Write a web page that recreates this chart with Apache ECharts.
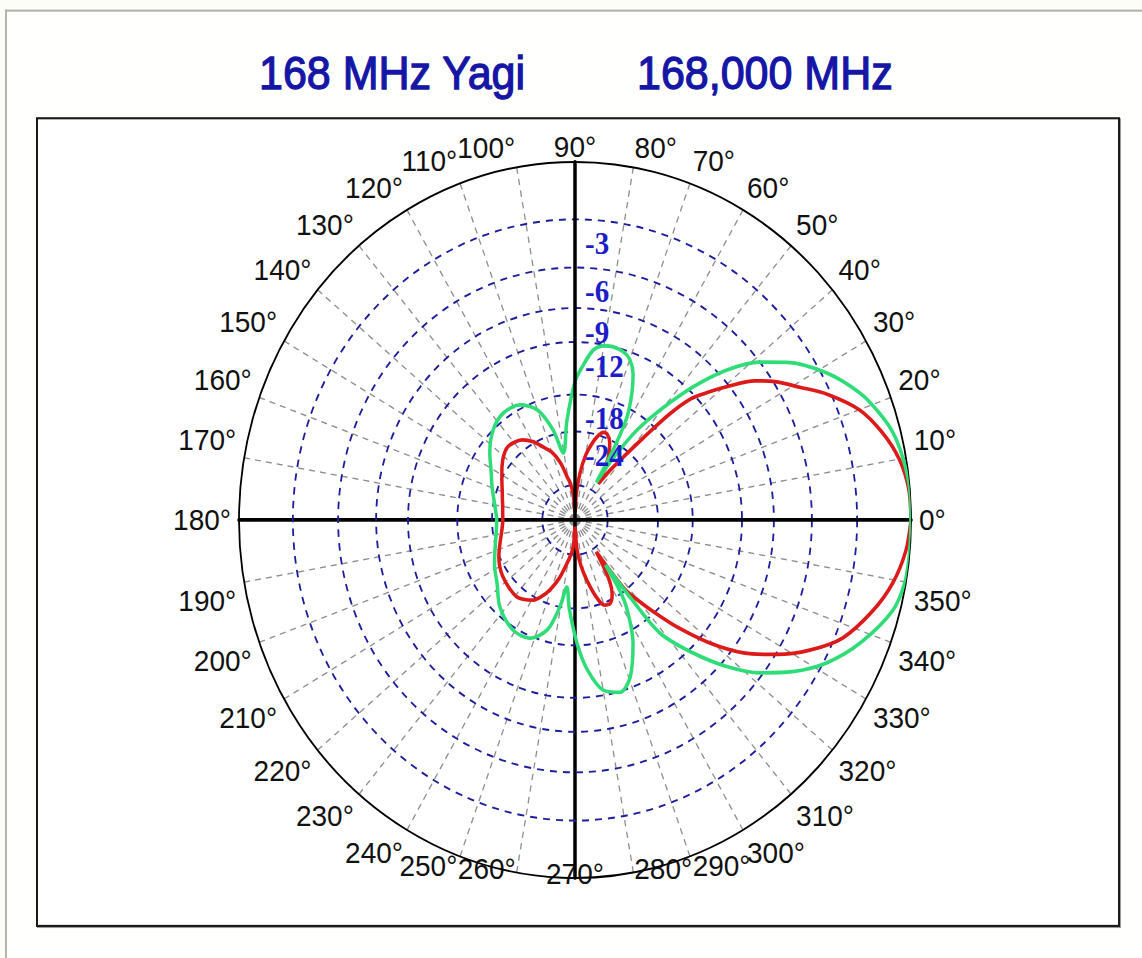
<!DOCTYPE html>
<html><head><meta charset="utf-8">
<script src="https://cdn.jsdelivr.net/npm/echarts@6/dist/echarts.min.js"></script>
<style>
html,body{margin:0;padding:0;background:#fdfdf8;overflow:hidden;width:1142px;height:958px;}
#wrap{position:absolute;left:0;top:0;width:1142px;height:900px;transform-origin:0 0;transform:scale(1,1.0655);}
#border{position:absolute;left:5px;top:9px;width:1150px;height:960px;border-left:2px solid #b4b4aa;border-top:2px solid #b4b4aa;background:#fffffd;}
#frame{position:absolute;left:36px;top:110px;width:1080px;height:756px;border:2px solid #1a1a1a;box-shadow:1px 1px 0 #9a9a9a;background:#fff;}
#chart{position:absolute;left:0;top:0;width:1142px;height:900px;}
</style></head><body>
<div id="wrap"><div id="border"></div><div id="frame"></div><div id="chart"></div></div>
<script>
// Title texts
var titleLeft = '168 MHz Yagi';
var titleRight = '168,000 MHz';
// Ring levels (dB) of the ARRL log scale and their printed labels
var ringDb = [-3, -6, -9, -12, -18, -24, -40];
var ringLabels = ['-3', '-6', '-9', '-12', '-18', '-24'];
// Pattern data: [azimuth (deg), relative gain (dB)]
var redPattern = [
  [0,0],[5,-0.05],[10,-0.35],[15,-0.95],[20,-1.8],[25,-3.2],[29,-4.6],[33,-5.9],[36,-7.1],[39.5,-9.2],
  [42,-10.8],[44.5,-12.5],[46.5,-15.5],[48.5,-20.5],[50.5,-25],[53,-30],[55.5,-36],[58,-31],[61,-27],
  [64.5,-24.5],[68,-23.3],[71,-23.2],[74,-24.3],[77,-26.3],[80,-29],[83.5,-34.7],[87,-45],[90,-65],
  [94,-46],[97.5,-39],[101,-36],[105,-31],[110,-27.5],[115,-25.6],[120,-23.6],[125,-22.3],[130,-21.7],
  [135,-21.5],[140,-22],[145,-22.8],[150,-23.7],[155,-24.5],[160,-25.2],[165,-25.7],[170,-26.1],
  [175,-26.3],[180,-26.4],[185,-26.2],[190,-25.8],[195,-25.2],[200,-24.5],[205,-23.8],[210,-23.2],
  [216,-22.7],[224,-22.3],[231,-22.1],[236,-22.6],[241,-23.4],[245,-24.8],[249,-26.8],[254,-30.5],
  [259,-36],[263,-40],[266.5,-46],[270,-65],[274,-43],[278,-35],[282,-30],[286,-26],[290,-23.6],
  [294,-23.4],[298,-24.8],[301,-27.5],[303.5,-33],[305.5,-38],[307.5,-24],[310,-21],[312.5,-18],
  [315.5,-14.6],[319.5,-10.9],[323.5,-8.1],[328,-5.9],[332.5,-4.1],[337.5,-2.55],[344,-1.4],
  [349.5,-0.66],[355,-0.2],[360,0]
];
var greenPattern = [
  [0,0],[5,0],[10,-0.15],[14.5,-0.4],[18.5,-0.85],[22.7,-1.45],[28.7,-2.7],[34.9,-4.5],[38.7,-6.0],
  [42.8,-8.3],[46.6,-11.5],[50.5,-15.8],[53.7,-20],[56.2,-25.6],[57.5,-30],[58.8,-36],[60,-25],
  [61.7,-19.2],[64.5,-16],[67,-14],[70,-12.7],[73,-12.2],[77,-12],[80,-12.1],[83.5,-12.7],[87,-14.5],
  [90,-16.3],[95,-22],[100.5,-28.5],[104.6,-23.1],[110,-19.2],[117,-17.5],[125.5,-17.2],[134,-18],
  [143.5,-19.8],[151,-21.5],[159.5,-22.9],[170,-24.3],[180,-25],[190,-24.6],[199.5,-23.6],[208,-22.4],
  [217,-21.2],[227.5,-19],[239,-17.6],[248,-17.7],[255,-19.7],[259.5,-24],[262.7,-28.6],[266,-24],
  [271,-18.3],[275,-14.9],[280,-12.5],[285.5,-11.9],[290.5,-13],[296.7,-16.4],[301.7,-20.9],
  [304,-24.5],[305.8,-32],[307.3,-22],[308.7,-15.5],[313.4,-11.5],[317.8,-8.5],[322.2,-6.2],
  [326.8,-4.4],[332,-2.8],[338,-1.5],[345,-0.37],[350,-0.05],[355,0],[360,0]
];

// ARRL log-periodic radial scale: each 2 dB shrinks the radius by 0.89
function arrl(db) { return Math.pow(0.89, -db / 2); }
var ringR = ringDb.map(arrl);
var LABEL_DROP = 0.067; // ring labels sit just inside (below) their ring
var labelR = ringR.slice(0, ringLabels.length).map(function (r) { return r - LABEL_DROP; });
function toPolar(p) { return p.map(function (d) { return [arrl(d[1]), d[0]]; }); }

var C = [575, 488];
var R = 336;
var axisBlack = { lineStyle: { color: '#000', width: 3.5 } };
var FONT = 'Arial, "Liberation Sans", sans-serif';
var base = { fontSize: 28, fontFamily: FONT, color: '#111' };
function ext(o) { var r = {}; for (var k in base) r[k] = base[k]; for (var k2 in o) r[k2] = o[k2]; return r; }

// angle label placement (mimics the original program's label anchoring)
function mainLabel(v) {
  var s = v + '\u00b0';
  if (v >= 360 || v === 260 || v === 270 || v === 280) return '';
  if (v === 10 || v === 170) return '{up|' + s + '}';
  if (v === 190 || v === 350) return '{dn|' + s + '}';
  if (v === 250 || v === 290) return '{lo|' + s + '}';
  if (v === 90) return '{t90|' + s + '}';
  if (v === 80) return '{g42|}{t80|' + s + '}';
  if (v === 100) return '{t80|' + s + '}{g58|}';
  return '{t|' + s + '}';
}
function bottomLabel(v) {
  var s = v + '\u00b0';
  if (v === 260) return '{t|' + s + '}{g66|}';
  if (v === 270) return '{t|' + s + '}';
  if (v === 280) return '{g66|}{t|' + s + '}';
  return '';
}

var chart = echarts.init(document.getElementById('chart'), null, { renderer: 'svg' });
var titleStyle = { color: '#1616a6', fontSize: 43, fontWeight: 'normal', fontFamily: FONT, textBorderColor: '#1616a6', textBorderWidth: 1.2 };
var hidden = { show: false };
chart.setOption({
  animation: false,
  title: [
    { text: titleLeft, left: 259, top: 47, padding: 0, textStyle: titleStyle },
    { text: titleRight, left: 637, top: 47, padding: 0, textStyle: titleStyle }
  ],
  polar: [
    { center: C, radius: R },
    { center: C, radius: R },
    { center: C, radius: R },
    { center: C, radius: R },
    { center: C, radius: R }
  ],
  angleAxis: [
    {
      polarIndex: 0, type: 'value', min: 0, max: 360, interval: 10, startAngle: 0, clockwise: false,
      axisLine: { lineStyle: { color: '#000', width: 1.8 } },
      axisTick: hidden,
      axisLabel: {
        margin: 8, formatter: mainLabel,
        rich: {
          t: ext({}), up: ext({ padding: [0, 0, 32, 0] }), dn: ext({ padding: [32, 0, 0, 0] }),
          lo: ext({ lineHeight: 2 }), t90: ext({ lineHeight: 12 }), t80: ext({ lineHeight: 22 }),
          g42: { width: 42 }, g58: { width: 58 }
        }
      },
      splitLine: { show: true, lineStyle: { color: '#8e8e8e', width: 1.3, type: [6, 5] } }
    },
    { polarIndex: 1, type: 'value', min: 0, max: 360, startAngle: 90, show: false },
    { polarIndex: 2, type: 'value', min: 0, max: 360, startAngle: 180, show: false },
    { polarIndex: 3, type: 'value', min: 0, max: 360, startAngle: 270, show: false },
    {
      polarIndex: 4, type: 'value', min: 0, max: 360, interval: 10, startAngle: 0, clockwise: false,
      axisLine: hidden, axisTick: hidden, splitLine: hidden,
      axisLabel: { margin: -18, formatter: bottomLabel, rich: { t: ext({}), g66: { width: 66 } } }
    }
  ],
  radiusAxis: [
    {
      polarIndex: 0, type: 'value', min: 0, max: 1, z: 1,
      axisLine: axisBlack,
      axisTick: { show: false, customValues: ringR },
      axisLabel: hidden,
      splitLine: { show: true, lineStyle: { color: '#1c1c9c', width: 1.8, type: [7, 6] } }
    },
    {
      polarIndex: 1, type: 'value', min: 0, max: 1, z: 10,
      axisLine: axisBlack,
      axisTick: hidden,
      splitLine: hidden,
      axisLabel: {
        show: true, customValues: labelR, showMinLabel: true, showMaxLabel: true, hideOverlap: false,
        margin: -10, align: 'left', verticalAlign: 'middle',
        color: '#1c1cc8', fontSize: 29, fontWeight: 'bold',
        fontFamily: '"Liberation Serif", "Times New Roman", serif',
        formatter: function (v) {
          var best = 0;
          for (var i = 1; i < labelR.length; i++) { if (Math.abs(labelR[i] - v) < Math.abs(labelR[best] - v)) best = i; }
          return ringLabels[best];
        }
      }
    },
    { polarIndex: 2, type: 'value', min: 0, max: 1, axisLine: axisBlack, axisTick: hidden, axisLabel: hidden, splitLine: hidden },
    { polarIndex: 3, type: 'value', min: 0, max: 1, axisLine: axisBlack, axisTick: hidden, axisLabel: hidden, splitLine: hidden },
    { polarIndex: 4, type: 'value', min: 0, max: 1, show: false }
  ],
  series: [
    {
      name: 'red', type: 'line', coordinateSystem: 'polar', polarIndex: 0, data: toPolar(redPattern),
      symbol: 'none', smooth: 0.3, z: 3, lineStyle: { color: '#dd1a1a', width: 3.5 }
    },
    {
      name: 'green', type: 'line', coordinateSystem: 'polar', polarIndex: 0, data: toPolar(greenPattern),
      symbol: 'none', smooth: 0.3, z: 4, lineStyle: { color: '#2edc78', width: 3.5 }
    }
  ]
});
</script>
</body></html>
